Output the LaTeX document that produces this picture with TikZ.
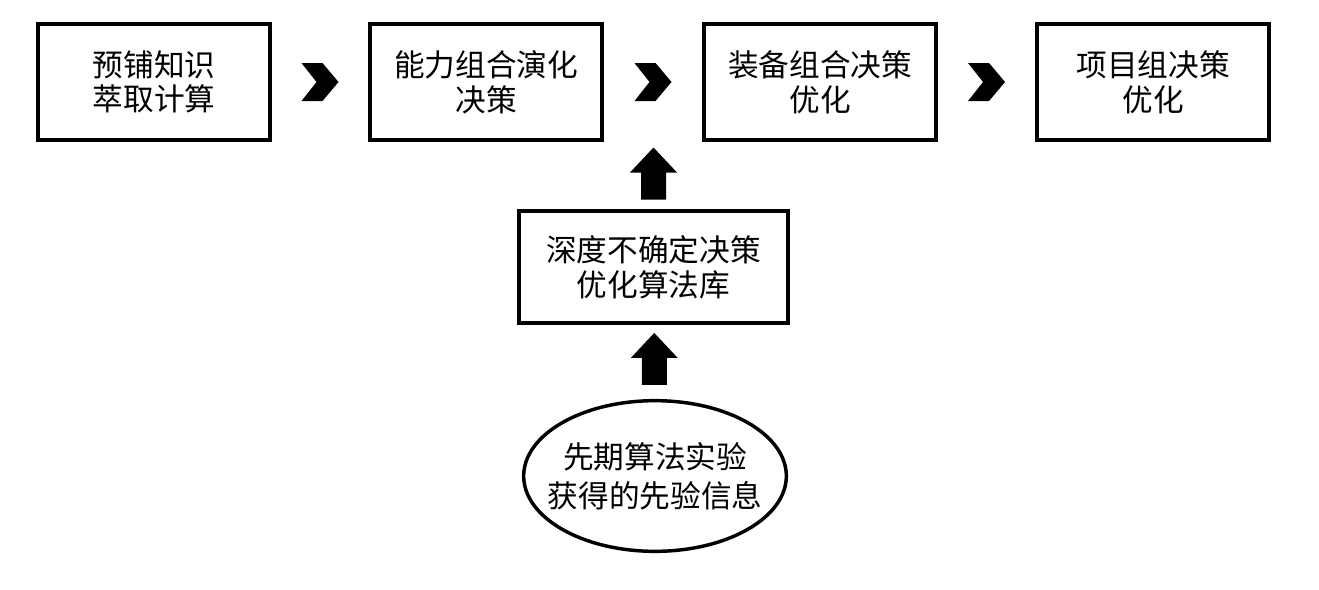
\documentclass[tikz,border=0pt]{standalone}
\usepackage{fontspec}
\newfontfamily\cjk{Noto Sans CJK SC}
\usetikzlibrary{shapes.geometric,calc}

\tikzset{
  stagebox/.style={draw, line width=3pt, minimum width=174pt, minimum height=87pt,
    align=center, font=\cjk\fontsize{23}{26}\selectfont, inner sep=0pt},
  libbox/.style={stagebox, minimum width=202pt, minimum height=84pt},
  priorell/.style={ellipse, draw, line width=2.6pt, minimum width=197pt, minimum height=113pt,
    align=center, font=\cjk\fontsize{23}{29}\selectfont, inner xsep=-11pt, inner ysep=0pt},
  chevron/.pic={\fill (18.5,0) -- (2.5,-19) -- (-18.5,-19) -- (-3.5,0) -- (-18.5,19) -- (2.5,19) -- cycle;},
  uparrow/.pic={\fill (0,-26) -- (23.5,-1) -- (12.5,-1) -- (12.5,26) -- (-12.5,26) -- (-12.5,-1) -- (-23.5,-1) -- cycle;}
}

\begin{document}
\begin{tikzpicture}[x=0.75pt,y=-0.75pt]
\useasboundingbox (0,0) rectangle (1319,589);
% top row
\node [stagebox] (knowstep) at (154,82) {预铺知识\\萃取计算};
\node [stagebox] (ability) at (486,82) {能力组合演化\\决策};
\node [stagebox] (equip) at (820,82) {装备组合决策\\优化};
\node [stagebox] (project) at (1153,82) {项目组决策\\优化};
% support
\node [libbox] (algolib) at (653.5,267) {深度不确定决策\\优化算法库};
\node [priorell] (prior) at (655,476) {先期算法实验\\获得的先验信息};
% chevrons between stages
\pic at ($(knowstep.east)!0.5!(ability.west)$) {chevron};
\pic at ($(ability.east)!0.5!(equip.west)$) {chevron};
\pic at ($(equip.east)!0.5!(project.west)$) {chevron};
% up arrows
\pic at ($(algolib.north |- ability.south)!0.5!(algolib.north)+(0,-2)$) {uparrow};
\pic at ($(prior.north)!0.5!(algolib.south)+(0,-3)$) {uparrow};
\end{tikzpicture}
\end{document}
